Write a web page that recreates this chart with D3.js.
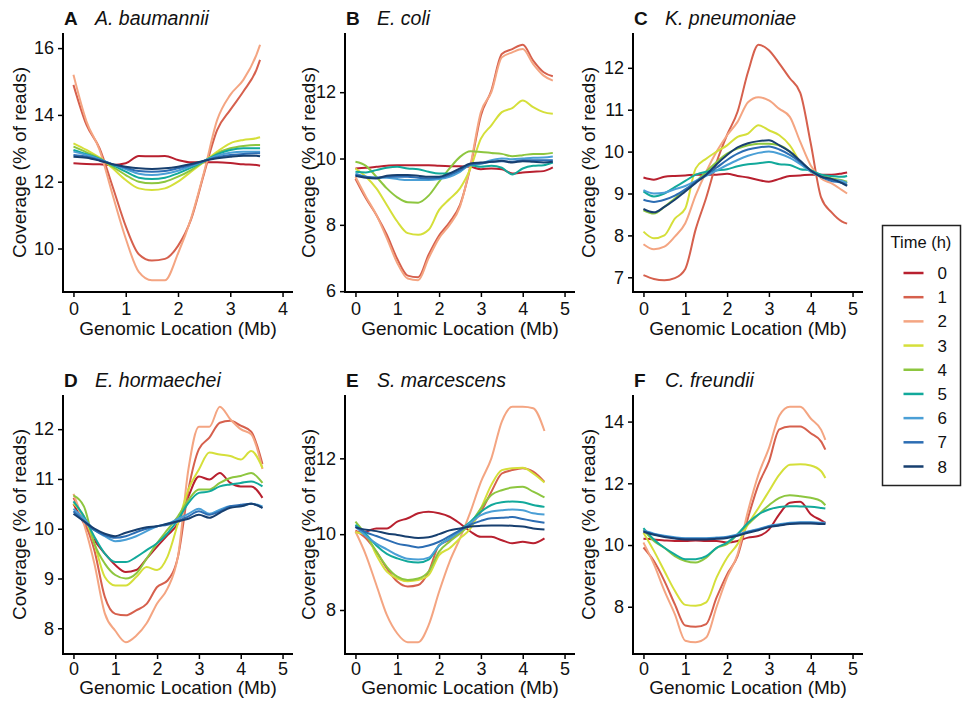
<!DOCTYPE html>
<html>
<head>
<meta charset="utf-8">
<script src="https://cdn.jsdelivr.net/npm/d3@7"></script>
<style>
  body { margin: 0; background: #fff; }
  svg { font-family: "Liberation Sans", Arial, sans-serif; }
</style>
</head>
<body>
<svg id="chart" width="962" height="701"></svg>
<script>
// time points (h) and their colours
const times = ["0", "1", "2", "3", "4", "5", "6", "7", "8"];
const timeColors = ["#b8202f", "#d6604d", "#f4a582", "#d5df3a", "#8dc63f",
  "#12a99b", "#4a9fd6", "#2c6db3", "#173f6f"];

const letters = ["A", "B", "C", "D", "E", "F"];
const species = ["A. baumannii", "E. coli", "K. pneumoniae",
  "E. hormaechei", "S. marcescens", "C. freundii"];
const xTickMax = [4, 5, 5, 5, 5, 5];
const yTicksA = [10, 12, 14, 16];
const yTicksB = [6, 8, 10, 12];
const yTicksC = [7, 8, 9, 10, 11, 12];
const yTicksD = [8, 9, 10, 11, 12];
const yTicksE = [8, 10, 12];
const yTicksF = [8, 10, 12, 14];

// genomic location (Mb) of the read-off points, one array per species
const xA = [0, 0.25, 0.5, 0.75, 1, 1.25, 1.5, 1.75, 2, 2.25, 2.5, 2.75, 3, 3.25, 3.5, 3.57];
const xB = [0, 0.25, 0.5, 0.75, 1, 1.25, 1.5, 1.75, 2, 2.25, 2.5, 2.75, 3, 3.25, 3.5, 3.75, 4, 4.25, 4.5, 4.72];
const xC = [0, 0.25, 0.5, 0.75, 1, 1.25, 1.5, 1.75, 2, 2.25, 2.5, 2.75, 3, 3.25, 3.5, 3.75, 4, 4.25, 4.5, 4.75, 4.87];
const xD = [0, 0.25, 0.5, 0.75, 1, 1.25, 1.5, 1.75, 2, 2.25, 2.5, 2.75, 3, 3.25, 3.5, 3.75, 4, 4.25, 4.52];
const xE = [0, 0.25, 0.5, 0.75, 1, 1.25, 1.5, 1.75, 2, 2.25, 2.5, 2.75, 3, 3.25, 3.5, 3.75, 4, 4.25, 4.52];
const xF = [0, 0.25, 0.5, 0.75, 1, 1.25, 1.5, 1.75, 2, 2.25, 2.5, 2.75, 3, 3.25, 3.5, 3.75, 4, 4.25, 4.35];

// coverage (% of reads), one row per time point 0..8
const covA = [
  [12.55, 12.53, 12.52, 12.5, 12.55, 12.77, 12.76, 12.77, 12.65, 12.58, 12.58, 12.58, 12.56, 12.52, 12.5, 12.48],
  [14.9, 13.7, 13.0, 11.85, 10.67, 9.83, 9.64, 9.69, 10.08, 10.87, 12.25, 13.55, 14.15, 14.7, 15.35, 15.65],
  [15.2, 13.8, 12.95, 11.6, 10.3, 9.3, 9.05, 9.05, 9.85, 10.9, 12.3, 13.85, 14.6, 15.05, 15.8, 16.1],
  [13.15, 12.95, 12.72, 12.4, 12.05, 11.8, 11.75, 11.8, 12.0, 12.3, 12.6, 12.9, 13.15, 13.25, 13.3, 13.33],
  [13.05, 12.88, 12.7, 12.45, 12.2, 12.0, 11.95, 12.0, 12.15, 12.35, 12.6, 12.85, 13.0, 13.07, 13.1, 13.1],
  [12.95, 12.82, 12.68, 12.5, 12.3, 12.12, 12.08, 12.12, 12.25, 12.42, 12.62, 12.82, 12.95, 13.0, 13.0, 13.0],
  [12.9, 12.8, 12.67, 12.52, 12.38, 12.24, 12.2, 12.24, 12.33, 12.47, 12.62, 12.78, 12.87, 12.9, 12.9, 12.9],
  [12.8, 12.75, 12.65, 12.52, 12.42, 12.32, 12.3, 12.32, 12.4, 12.5, 12.62, 12.73, 12.8, 12.83, 12.85, 12.85],
  [12.75, 12.72, 12.63, 12.52, 12.45, 12.4, 12.38, 12.4, 12.45, 12.53, 12.63, 12.7, 12.75, 12.78, 12.78, 12.76]
];
const covB = [
  [9.7, 9.72, 9.75, 9.78, 9.8, 9.8, 9.8, 9.8, 9.78, 9.77, 9.77, 9.75, 9.68, 9.7, 9.68, 9.55, 9.58, 9.6, 9.62, 9.73],
  [9.39, 8.8, 8.3, 7.7, 6.97, 6.47, 6.42, 7.1, 7.68, 8.08, 8.6, 9.75, 11.3, 12.05, 13.15, 13.3, 13.43, 12.95, 12.6, 12.48],
  [9.45, 8.85, 8.3, 7.6, 6.85, 6.38, 6.33, 7.0, 7.6, 8.0, 8.55, 9.8, 11.4, 12.0, 13.05, 13.2, 13.3, 12.85, 12.5, 12.35],
  [9.7, 9.45, 9.1, 8.6, 8.1, 7.75, 7.7, 7.85, 8.45, 8.78, 9.1, 9.7, 10.6, 11.0, 11.4, 11.52, 11.75, 11.55, 11.4, 11.35],
  [9.9, 9.78, 9.45, 9.1, 8.83, 8.68, 8.67, 8.88, 9.3, 9.7, 10.05, 10.22, 10.2, 10.17, 10.14, 10.07, 10.1, 10.14, 10.14, 10.17],
  [9.6, 9.58, 9.65, 9.72, 9.75, 9.7, 9.68, 9.6, 9.55, 9.55, 9.62, 9.8, 9.75, 9.78, 9.72, 9.52, 9.7, 9.78, 9.8, 9.88],
  [9.55, 9.45, 9.42, 9.42, 9.38, 9.35, 9.35, 9.35, 9.38, 9.45, 9.6, 9.82, 9.85, 9.95, 10.0, 9.98, 10.0, 10.02, 10.03, 10.06],
  [9.5, 9.45, 9.42, 9.45, 9.45, 9.45, 9.42, 9.4, 9.42, 9.5, 9.65, 9.82, 9.85, 9.9, 9.92, 9.9, 9.95, 9.95, 9.95, 9.95],
  [9.48, 9.42, 9.4, 9.48, 9.5, 9.5, 9.48, 9.45, 9.45, 9.55, 9.7, 9.85, 9.88, 9.9, 9.93, 9.88, 9.92, 9.9, 9.88, 9.9]
];
const covC = [
  [9.38, 9.33, 9.4, 9.42, 9.43, 9.45, 9.45, 9.45, 9.47, 9.42, 9.38, 9.32, 9.28, 9.35, 9.42, 9.43, 9.45, 9.45, 9.45, 9.48, 9.5],
  [7.05, 6.96, 6.93, 6.98, 7.2, 8.15, 8.9, 9.75, 10.4, 10.95, 11.9, 12.55, 12.42, 12.1, 11.75, 11.4, 10.2, 8.9, 8.55, 8.33, 8.28],
  [7.79, 7.67, 7.73, 7.97, 8.29, 8.96, 9.52, 10.0, 10.39, 10.71, 11.18, 11.3, 11.22, 11.02, 10.83, 10.23, 9.67, 9.36, 9.24, 9.08, 9.0],
  [8.09, 7.93, 8.0, 8.4, 8.64, 9.6, 9.83, 10.0, 10.15, 10.35, 10.43, 10.63, 10.51, 10.39, 10.15, 9.75, 9.52, 9.4, 9.32, 9.28, 9.24],
  [8.6, 8.52, 8.68, 8.88, 9.08, 9.28, 9.52, 9.75, 9.95, 10.07, 10.15, 10.19, 10.19, 10.15, 10.0, 9.75, 9.56, 9.44, 9.36, 9.32, 9.28],
  [9.05, 8.93, 9.0, 9.15, 9.3, 9.45, 9.52, 9.55, 9.58, 9.65, 9.7, 9.72, 9.75, 9.7, 9.68, 9.58, 9.55, 9.45, 9.42, 9.4, 9.42],
  [9.08, 9.0, 9.02, 9.1, 9.18, 9.3, 9.42, 9.55, 9.68, 9.8, 9.9, 9.97, 10.0, 9.95, 9.85, 9.7, 9.52, 9.4, 9.33, 9.3, 9.25],
  [8.85, 8.8, 8.85, 8.95, 9.1, 9.28, 9.45, 9.62, 9.8, 9.95, 10.05, 10.1, 10.12, 10.05, 9.92, 9.75, 9.55, 9.4, 9.3, 9.25, 9.2],
  [8.63, 8.55, 8.68, 8.85, 9.05, 9.25, 9.45, 9.7, 9.92, 10.1, 10.2, 10.25, 10.27, 10.15, 10.0, 9.78, 9.55, 9.4, 9.35, 9.25, 9.18]
];
const covD = [
  [10.5, 10.11, 9.77, 9.5, 9.27, 9.13, 9.17, 9.4, 9.64, 9.87, 10.11, 10.65, 11.05, 10.99, 11.12, 10.92, 10.85, 10.85, 10.62],
  [10.62, 10.18, 9.57, 8.63, 8.29, 8.26, 8.36, 8.49, 8.83, 8.96, 9.44, 10.79, 11.6, 11.83, 12.13, 12.17, 12.07, 11.95, 11.3],
  [10.7, 10.1, 9.3, 8.3, 7.95, 7.72, 7.85, 8.1, 8.5, 8.8, 9.45, 11.2, 12.05, 12.05, 12.45, 12.2, 12.0, 11.9, 11.2],
  [10.5, 10.25, 9.7, 9.03, 8.86, 8.86, 9.03, 9.23, 9.17, 9.44, 10.11, 10.79, 11.19, 11.53, 11.49, 11.46, 11.39, 11.56, 11.22],
  [10.67, 10.45, 9.7, 9.3, 9.07, 9.0, 9.1, 9.4, 9.71, 9.98, 10.25, 10.58, 10.79, 10.79, 10.92, 11.02, 11.06, 11.12, 10.92],
  [10.55, 10.25, 9.84, 9.5, 9.33, 9.33, 9.43, 9.57, 9.71, 9.91, 10.18, 10.52, 10.72, 10.75, 10.85, 10.89, 10.92, 10.95, 10.85],
  [10.4, 10.2, 9.98, 9.85, 9.75, 9.78, 9.85, 9.95, 10.05, 10.1, 10.2, 10.3, 10.4, 10.3, 10.38, 10.45, 10.45, 10.5, 10.45],
  [10.35, 10.15, 9.97, 9.87, 9.82, 9.85, 9.93, 10.0, 10.05, 10.08, 10.15, 10.25, 10.35, 10.28, 10.35, 10.45, 10.48, 10.5, 10.42],
  [10.3, 10.15, 10.0, 9.9, 9.85, 9.92, 9.98, 10.03, 10.05, 10.1, 10.15, 10.2, 10.28, 10.22, 10.32, 10.42, 10.45, 10.5, 10.42]
];
const covE = [
  [10.05, 10.07, 10.15, 10.15, 10.33, 10.42, 10.55, 10.59, 10.55, 10.46, 10.28, 10.07, 9.93, 9.93, 9.84, 9.76, 9.8, 9.76, 9.89],
  [10.1, 9.89, 9.54, 9.1, 8.75, 8.62, 8.66, 9.01, 9.71, 9.85, 10.07, 10.24, 10.59, 11.12, 11.6, 11.69, 11.74, 11.65, 11.38],
  [10.07, 9.45, 8.66, 7.87, 7.38, 7.15, 7.15, 7.6, 8.48, 9.27, 9.89, 10.59, 11.38, 12.0, 12.97, 13.36, 13.36, 13.32, 12.72],
  [10.05, 9.98, 9.45, 9.01, 8.83, 8.76, 8.79, 8.92, 9.45, 9.63, 9.89, 10.15, 10.68, 11.3, 11.69, 11.74, 11.75, 11.6, 11.36],
  [10.33, 9.98, 9.54, 9.14, 8.88, 8.79, 8.83, 9.01, 9.54, 9.8, 10.02, 10.28, 10.68, 11.03, 11.16, 11.23, 11.25, 11.12, 10.97],
  [10.25, 10.0, 9.7, 9.48, 9.36, 9.28, 9.25, 9.33, 9.7, 9.89, 10.11, 10.33, 10.59, 10.77, 10.84, 10.86, 10.84, 10.77, 10.72],
  [10.2, 9.95, 9.75, 9.6, 9.45, 9.35, 9.33, 9.38, 9.7, 9.88, 10.08, 10.3, 10.5, 10.6, 10.63, 10.65, 10.63, 10.55, 10.52],
  [10.2, 10.05, 9.95, 9.85, 9.75, 9.7, 9.65, 9.7, 9.8, 9.95, 10.1, 10.25, 10.35, 10.42, 10.43, 10.45, 10.4, 10.35, 10.3],
  [10.18, 10.12, 10.08, 10.02, 9.98, 9.93, 9.9, 9.92, 10.0, 10.1, 10.15, 10.2, 10.22, 10.23, 10.23, 10.22, 10.2, 10.15, 10.12]
];
const covF = [
  [10.2, 10.18, 10.15, 10.13, 10.13, 10.15, 10.13, 10.13, 10.08, 10.13, 10.24, 10.29, 10.5, 11.0, 11.37, 11.4, 11.0, 10.8, 10.72],
  [9.92, 9.48, 8.84, 8.08, 7.39, 7.35, 7.44, 8.3, 9.05, 9.64, 10.88, 11.96, 12.7, 13.75, 13.84, 13.84, 13.62, 13.35, 13.09],
  [10.08, 9.38, 8.52, 7.76, 6.9, 6.85, 7.0, 8.0, 8.95, 9.7, 11.1, 12.28, 13.14, 14.2, 14.48, 14.48, 14.1, 13.73, 13.41],
  [10.4, 9.81, 9.16, 8.52, 8.06, 8.03, 8.14, 8.95, 9.59, 10.03, 10.67, 11.2, 11.74, 12.28, 12.6, 12.62, 12.58, 12.39, 12.17],
  [10.5, 10.13, 9.91, 9.64, 9.48, 9.43, 9.59, 9.91, 10.03, 10.35, 10.67, 10.99, 11.29, 11.53, 11.61, 11.58, 11.53, 11.42, 11.29],
  [10.55, 10.18, 9.91, 9.7, 9.54, 9.54, 9.64, 9.91, 10.08, 10.35, 10.72, 10.99, 11.15, 11.23, 11.26, 11.25, 11.24, 11.2, 11.18],
  [10.47, 10.37, 10.3, 10.25, 10.22, 10.22, 10.22, 10.24, 10.27, 10.34, 10.44, 10.52, 10.62, 10.67, 10.72, 10.74, 10.74, 10.72, 10.72],
  [10.45, 10.35, 10.28, 10.23, 10.2, 10.2, 10.2, 10.22, 10.25, 10.32, 10.42, 10.5, 10.6, 10.65, 10.7, 10.72, 10.72, 10.7, 10.7],
  [10.43, 10.33, 10.26, 10.21, 10.18, 10.18, 10.18, 10.2, 10.23, 10.3, 10.4, 10.48, 10.58, 10.63, 10.68, 10.7, 10.7, 10.68, 10.68]
];

const panels = [
  { x: xA, cov: covA, yTicks: yTicksA },
  { x: xB, cov: covB, yTicks: yTicksB },
  { x: xC, cov: covC, yTicks: yTicksC },
  { x: xD, cov: covD, yTicks: yTicksD },
  { x: xE, cov: covE, yTicks: yTicksE },
  { x: xF, cov: covF, yTicks: yTicksF }
];

const svg = d3.select("#chart");

// layout of the 3x2 grid
const colLeft = [63, 345, 633];
const rowTop = [33, 395];
const plotW = 230;
const plotH = 259;
const yTitleOffset = [37, 30, 38];
const xTitleGap = [43, 40];
const xTickPad = [5, 3];

panels.forEach((p, i) => {
  const col = i % 3;
  const row = Math.floor(i / 3);
  const g = svg.append("g")
    .attr("transform", `translate(${colLeft[col]},${rowTop[row]})`);

  // ggplot-style 5% expansion on both axes
  const xm = xTickMax[i];
  const x = d3.scaleLinear()
    .domain([-0.05 * xm, 1.05 * xm])
    .range([0, plotW]);

  const [lo, hi] = d3.extent(p.cov.flat());
  const pad = (hi - lo) * 0.05;
  const y = d3.scaleLinear()
    .domain([lo - pad, hi + pad])
    .range([plotH, 0]);

  const line = d3.line()
    .x((d) => x(d[0]))
    .y((d) => y(d[1]))
    .curve(d3.curveMonotoneX);

  p.cov.forEach((vals, t) => {
    g.append("path")
      .datum(vals.map((v, k) => [p.x[k], v]))
      .attr("d", line)
      .attr("fill", "none")
      .attr("stroke", timeColors[t])
      .attr("stroke-width", 2)
      .attr("stroke-linejoin", "round");
  });

  // axes
  const xAxis = g.append("g")
    .attr("transform", `translate(0,${plotH})`)
    .call(d3.axisBottom(x).tickValues(d3.range(0, xm + 1)).tickFormat(d3.format("d"))
      .tickSize(5).tickPadding(xTickPad[row]).tickSizeOuter(0));
  const yAxis = g.append("g")
    .call(d3.axisLeft(y).tickValues(p.yTicks).tickFormat(d3.format("d"))
      .tickSize(5).tickPadding(4).tickSizeOuter(0));

  [xAxis, yAxis].forEach((ax) => {
    ax.select(".domain").attr("stroke", "#000").attr("stroke-width", 2);
    ax.selectAll(".tick line").attr("stroke", "#000").attr("stroke-width", 1.5);
    ax.selectAll(".tick text")
      .attr("fill", "#111")
      .style("font-size", "18px")
      .style("font-family", "'Liberation Sans', Arial, sans-serif");
  });
  // make both axis lines meet at the corner
  xAxis.select(".domain").attr("d", `M-1,0H${plotW}`);
  yAxis.select(".domain").attr("d", `M0,0V${plotH + 1}`);

  // axis titles
  g.append("text")
    .attr("x", plotW / 2)
    .attr("y", plotH + xTitleGap[row])
    .attr("text-anchor", "middle")
    .style("font-size", "19px")
    .attr("fill", "#111")
    .text("Genomic Location (Mb)");

  g.append("text")
    .attr("transform", `translate(${-yTitleOffset[col]},${plotH / 2}) rotate(-90)`)
    .attr("text-anchor", "middle")
    .style("font-size", "19px")
    .attr("fill", "#111")
    .text("Coverage (% of reads)");

  // panel letter and species name
  g.append("text")
    .attr("x", 1)
    .attr("y", -8)
    .style("font-size", "19px")
    .style("font-weight", "bold")
    .attr("fill", "#111")
    .text(letters[i]);
  g.append("text")
    .attr("x", 32)
    .attr("y", -8)
    .style("font-size", "19.5px")
    .style("font-style", "italic")
    .attr("fill", "#111")
    .text(species[i]);
});

// legend
const legend = svg.append("g").attr("transform", "translate(882.5,225.5)");
legend.append("rect")
  .attr("width", 78)
  .attr("height", 260)
  .attr("fill", "#fff")
  .attr("stroke", "#222")
  .attr("stroke-width", 1.5);
legend.append("text")
  .attr("x", 8)
  .attr("y", 22)
  .style("font-size", "16.5px")
  .attr("fill", "#111")
  .text("Time (h)");

const legendY = d3.scalePoint().domain(times).range([47.5, 241]);
times.forEach((t, k) => {
  legend.append("line")
    .attr("x1", 21).attr("x2", 41)
    .attr("y1", legendY(t)).attr("y2", legendY(t))
    .attr("stroke", timeColors[k])
    .attr("stroke-width", 2.5);
  legend.append("text")
    .attr("x", 55)
    .attr("y", legendY(t))
    .attr("dy", "0.36em")
    .style("font-size", "17px")
    .attr("fill", "#111")
    .text(t);
});
</script>
</body>
</html>
